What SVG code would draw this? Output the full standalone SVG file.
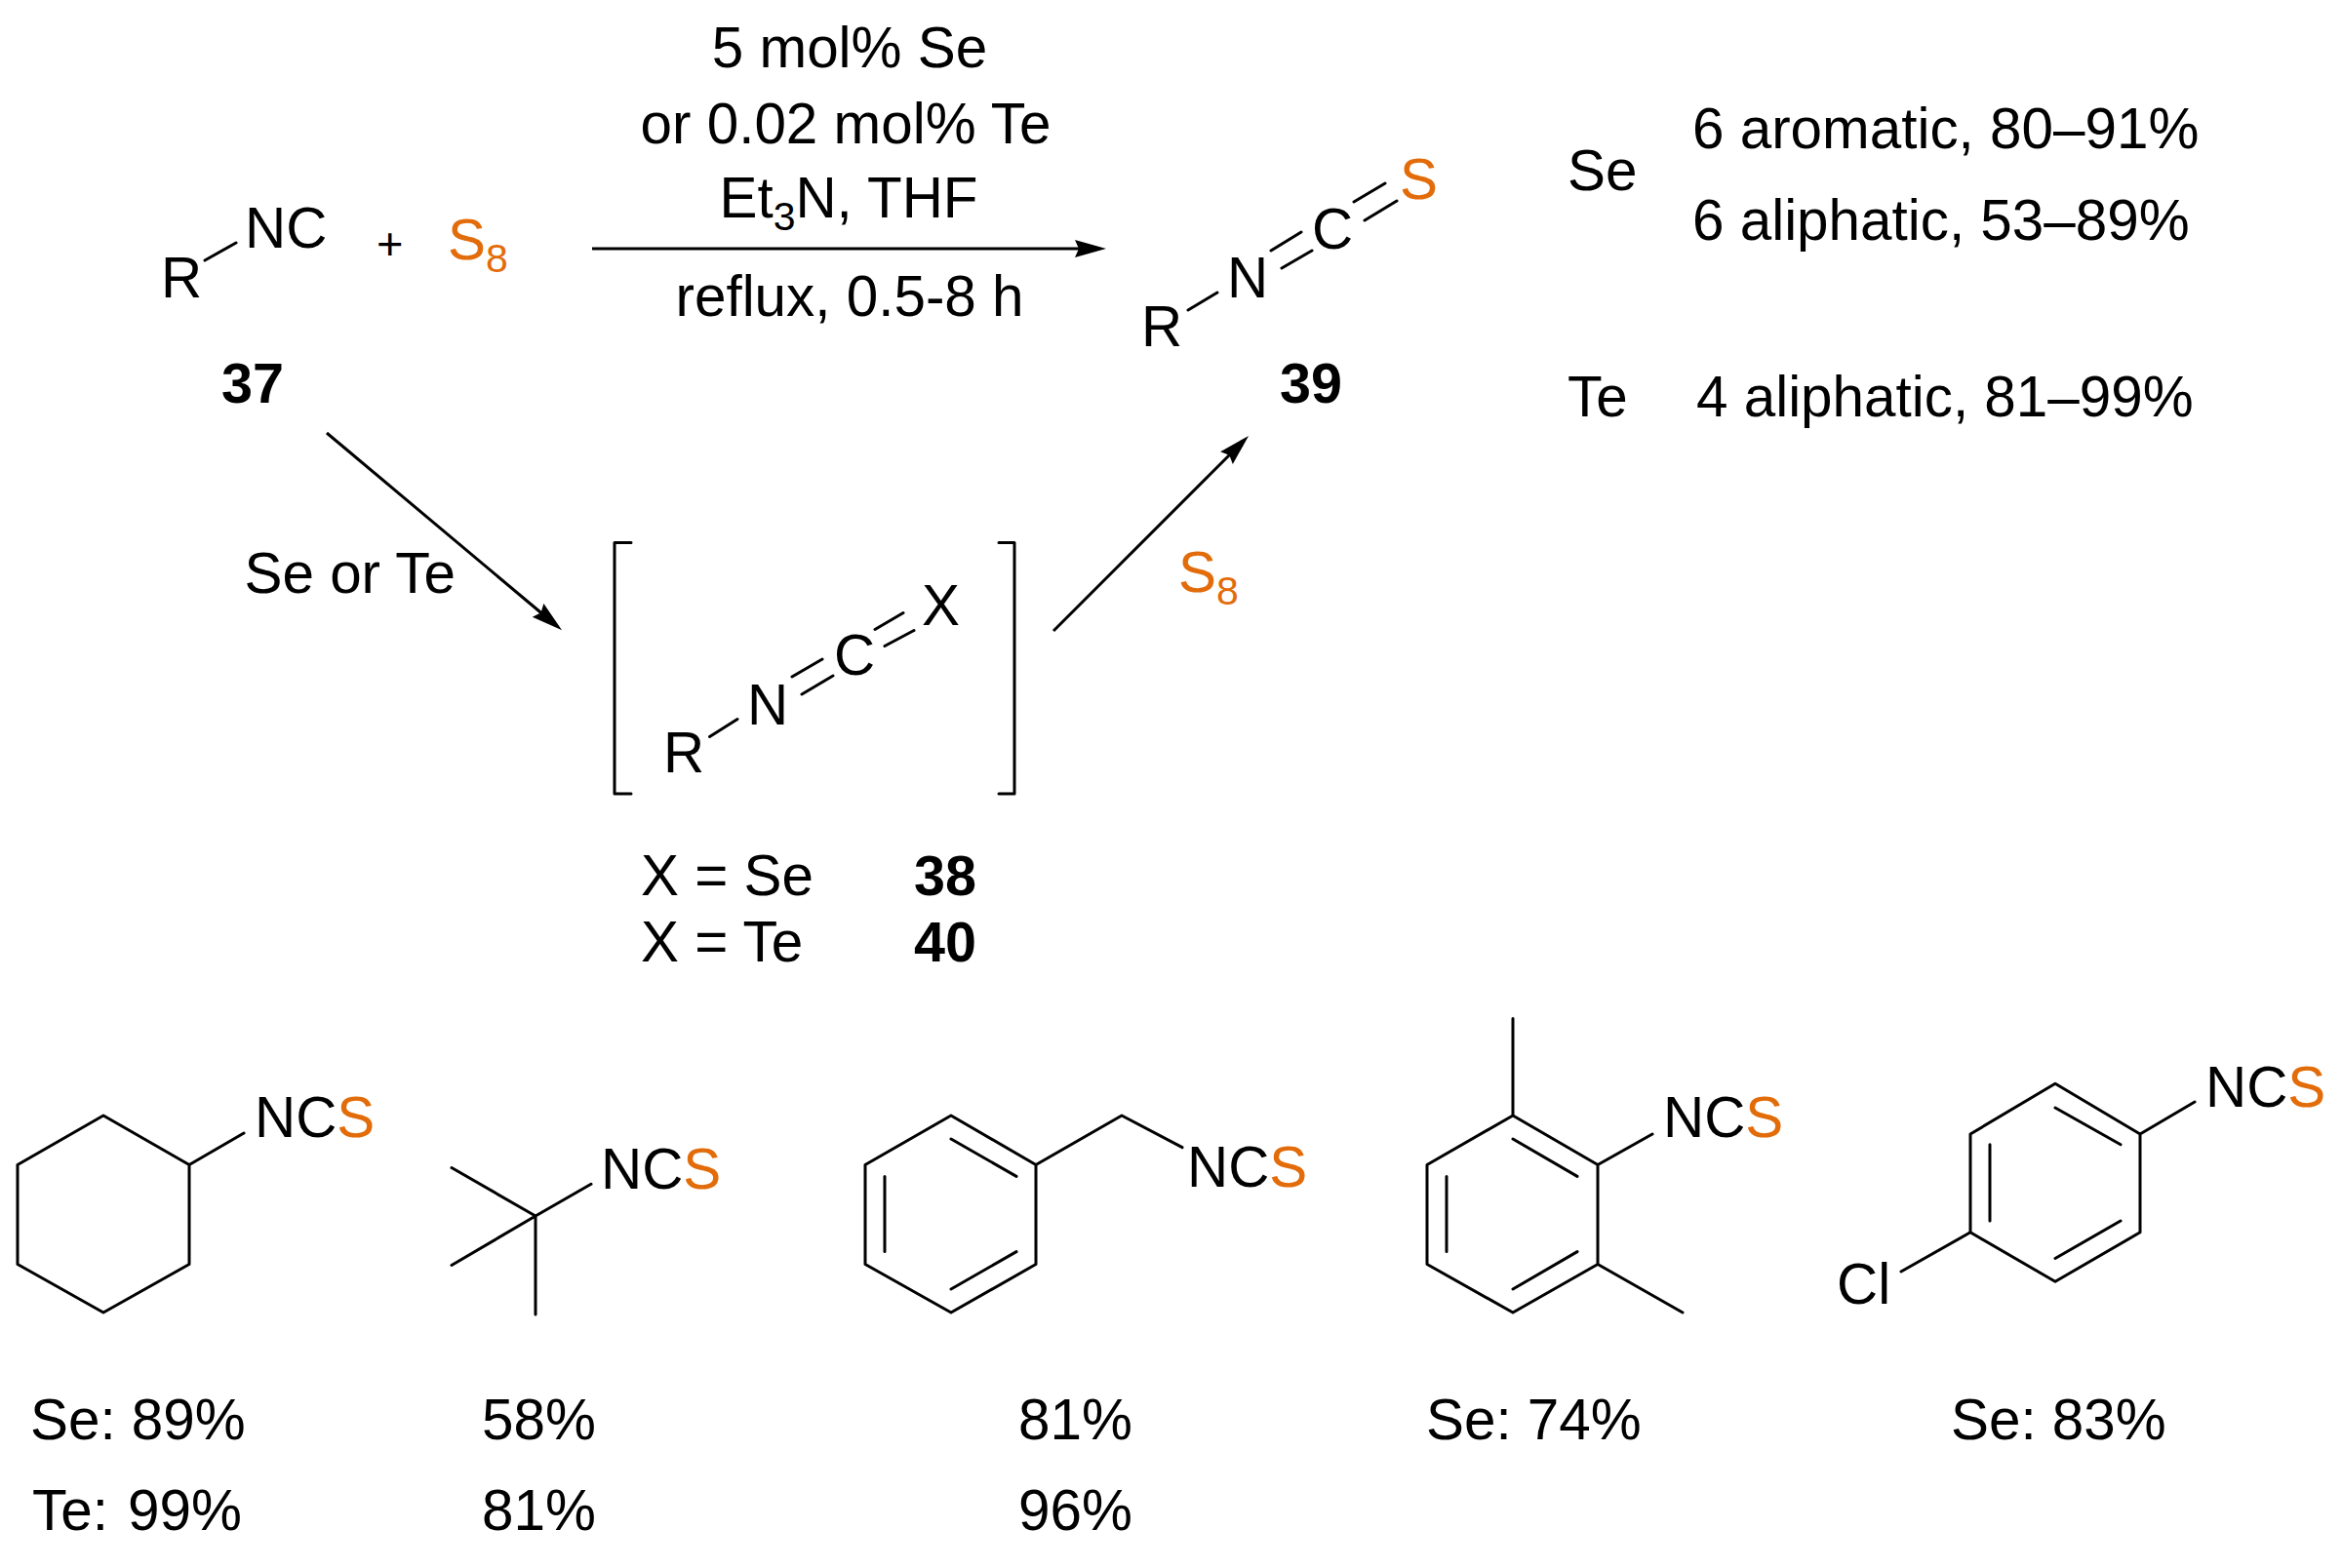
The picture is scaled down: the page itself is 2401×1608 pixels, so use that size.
<svg xmlns="http://www.w3.org/2000/svg" width="2401" height="1608" viewBox="0 0 2401 1608">
<defs>
<style>
text{font-family:"Liberation Sans",Arial,sans-serif;font-size:58.4px;fill:#000}
.b{font-weight:700;font-size:57.5px}
.o,.o tspan{fill:#E36C0A}
.s{font-size:41px}
.bond{fill:none;stroke:#000;stroke-width:3;stroke-linecap:round;stroke-linejoin:round}
.arr{fill:none;stroke:#000;stroke-width:3;marker-end:url(#head)}
</style>
<marker id="head" markerUnits="userSpaceOnUse" markerWidth="36" markerHeight="20" refX="5" refY="10" orient="auto" viewBox="0 0 36 20"><path d="M32 10L0 1L4 10L0 19Z" fill="#000"/></marker>
</defs>
<rect width="2401" height="1608" fill="#fff"/>
<g id="connectors">
<line class="arr" x1="607" y1="255" x2="1107" y2="255"/>
<line class="arr" x1="335" y1="444" x2="555.4" y2="629"/>
<line class="arr" x1="1080" y1="647" x2="1261" y2="466"/>
</g>
<g id="conditions">
<text x="871" y="69" text-anchor="middle">5 mol% Se</text>
<text x="867" y="147" text-anchor="middle">or 0.02 mol% Te</text>
<text x="870" y="223" text-anchor="middle">Et<tspan class="s" dy="13">3</tspan><tspan dy="-13">N, THF</tspan></text>
<text x="871" y="324" text-anchor="middle">reflux, 0.5-8 h</text>
<text x="250.5" y="608">Se or Te</text>
</g>
<g id="node-37">
<path class="bond" d="M210 267L242 249"/>
<text x="165" y="305">R</text>
<text x="251" y="254">NC</text>
<text class="b" x="227" y="413">37</text>
</g>
<g id="plus"><text x="386" y="266" style="font-size:47px">+</text></g>
<g id="s8-top"><text class="o" x="459" y="266">S<tspan class="s" dy="13">8</tspan></text></g>
<g id="node-39">
<path class="bond" d="M1218 318L1248 300M1303 257L1334 238M1314 275L1345 257M1388 207L1420 188M1399 226L1432 206"/>
<text x="1170" y="355">R</text>
<text x="1258" y="305">N</text>
<text x="1345" y="255">C</text>
<text class="o" x="1435" y="204">S</text>
<text class="b" x="1312" y="413">39</text>
</g>
<g id="summary">
<text x="1607" y="195">Se</text>
<text x="1735" y="152">6 aromatic, 80–91%</text>
<text x="1735" y="246">6 aliphatic, 53–89%</text>
<text x="1607" y="427">Te</text>
<text x="1739" y="427">4 aliphatic, 81–99%</text>
</g>
<g id="node-intermediate">
<path class="bond" d="M647 556.5H630V814H647M1024 556.5H1040V814H1024"/>
<path class="bond" d="M727.5 755.5L756 737.5M812 694L843 676M822 712L854 693M897 645.5L926 628.5M907 662.5L937 646.5"/>
<text x="680" y="792">R</text>
<text x="766" y="742.5">N</text>
<text x="855" y="692">C</text>
<text x="945" y="641">X</text>
<text x="657" y="918">X = Se</text>
<text class="b" x="937" y="918">38</text>
<text x="657" y="986">X = Te</text>
<text class="b" x="937" y="986">40</text>
</g>
<g id="s8-side"><text class="o" x="1208" y="607">S<tspan class="s" dy="13">8</tspan></text></g>
<g id="cyclohexyl">
<path class="bond" d="M106 1144L194 1194.5V1296.5L106 1346L18 1296.5V1194.5ZM194 1194.5L250 1162"/>
<text x="261" y="1166">NC<tspan class="o">S</tspan></text>
<text x="31" y="1476">Se: 89%</text>
<text x="33" y="1569">Te: <tspan x="131">99%</tspan></text>
</g>
<g id="tert-butyl">
<path class="bond" d="M463 1197.5L549 1247L606 1214.3M463 1297.5L549 1247V1348"/>
<text x="616" y="1219">NC<tspan class="o">S</tspan></text>
<text x="494" y="1476">58%</text>
<text x="494" y="1569">81%</text>
</g>
<g id="benzyl">
<path class="bond" d="M975 1144L1062 1194.5V1296.5L975 1346L887 1296.5V1194.5ZM975 1168L1042 1206.4M907 1206.4V1283.6M975 1322L1042 1283.6M1062 1194.5L1150 1144L1212 1176.7"/>
<text x="1217" y="1217">NC<tspan class="o">S</tspan></text>
<text x="1044" y="1476">81%</text>
<text x="1044" y="1569">96%</text>
</g>
<g id="xylyl">
<path class="bond" d="M1551 1144L1638 1194.5V1296.5L1551 1346L1463 1296.5V1194.5ZM1551 1168L1617 1206.4M1483 1206.4V1283.6M1551 1322L1617 1283.6M1551 1144V1044.5M1638 1296.5L1725 1346M1638 1194.5L1694 1163"/>
<text x="1705" y="1166">NC<tspan class="o">S</tspan></text>
<text x="1462" y="1476">Se: 74%</text>
</g>
<g id="chlorophenyl">
<path class="bond" d="M2107 1111.3L2194 1163V1263.8L2107 1314.3L2020 1263.8V1163ZM2107 1136L2174 1173.7M2040 1173.7V1252M2107 1290.5L2174 1252M2194 1163L2250 1130M2020 1263.8L1949 1304"/>
<text x="2261" y="1135">NC<tspan class="o">S</tspan></text>
<text x="1883" y="1337">Cl</text>
<text x="2000" y="1476">Se: 83%</text>
</g>
</svg>
